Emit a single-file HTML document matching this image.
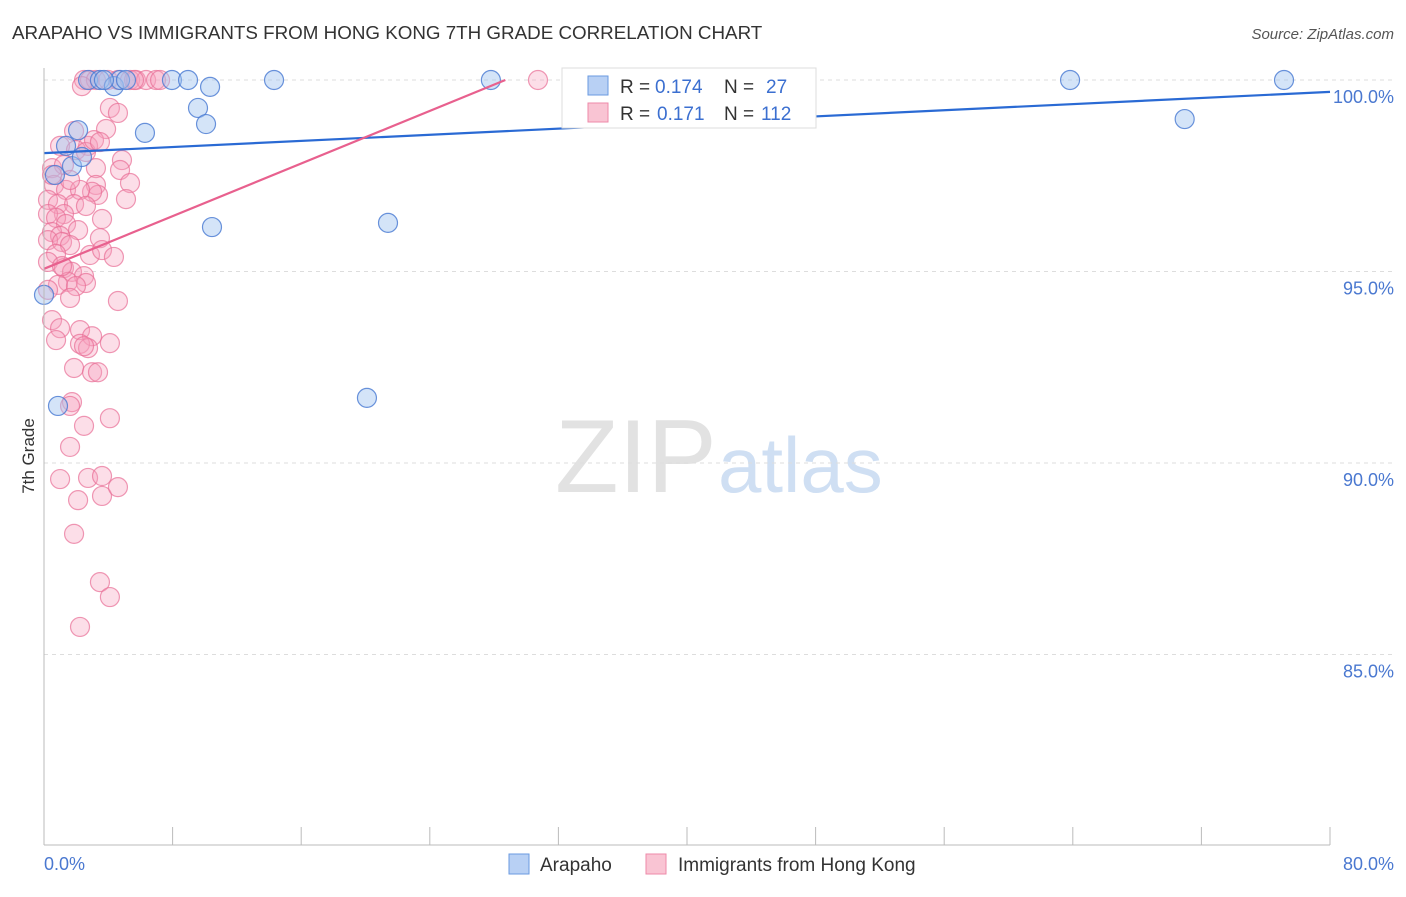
<!DOCTYPE html>
<html><head><meta charset="utf-8"><style>
body{margin:0;background:#fff;font-family:"Liberation Sans",sans-serif;}
svg text{font-family:"Liberation Sans",sans-serif;}
</style></head><body>
<svg id="c" width="1406" height="892">
<text x="12" y="39" font-size="18.8" fill="#333">ARAPAHO VS IMMIGRANTS FROM HONG KONG 7TH GRADE CORRELATION CHART</text>
<text x="1394" y="39" font-size="15" fill="#555" text-anchor="end" font-style="italic">Source: ZipAtlas.com</text>
<text x="555" y="492" font-size="104" fill="#e2e2e2" font-family="Liberation Serif">ZIP</text>
<text x="718" y="492" font-size="78" fill="#cfdff3">atlas</text>
<g id="grid"></g>
<g id="pts"></g>
<g id="lines"></g>
<line x1="44" y1="68" x2="44" y2="845" stroke="#bbb"/>
<line x1="44" y1="845" x2="1330" y2="845" stroke="#bbb"/>
<text transform="translate(34,456) rotate(-90)" font-size="17" fill="#333" text-anchor="middle">7th Grade</text>
<text x="44" y="870" font-size="18" fill="#4a78d0">0.0%</text>
<text x="1394" y="870" font-size="18" fill="#4a78d0" text-anchor="end">80.0%</text>
<g>
<rect x="562" y="68" width="254" height="60" fill="#fff" stroke="#ddd"/>
<rect x="588" y="76" width="20" height="19" fill="#b8d0f4" stroke="#6a9ae0"/>
<rect x="588" y="103" width="20" height="19" fill="#f9c4d3" stroke="#ee8aa8"/>
<text x="620" y="93" font-size="19" fill="#333">R =</text>
<text x="655" y="93" font-size="19" fill="#3b6fd0">0.174</text>
<text x="724" y="93" font-size="19" fill="#333">N =</text>
<text x="766" y="93" font-size="19" fill="#3b6fd0">27</text>
<text x="620" y="120" font-size="19" fill="#333">R =</text>
<text x="657" y="120" font-size="19" fill="#3b6fd0">0.171</text>
<text x="724" y="120" font-size="19" fill="#333">N =</text>
<text x="761" y="120" font-size="19" fill="#3b6fd0">112</text>
</g>
<g>
<rect x="509" y="854" width="20" height="20" fill="#b8d0f4" stroke="#6a9ae0"/>
<text x="540" y="871" font-size="19" fill="#333">Arapaho</text>
<rect x="646" y="854" width="20" height="20" fill="#f9c4d3" stroke="#ee8aa8"/>
<text x="678" y="871" font-size="19" fill="#333">Immigrants from Hong Kong</text>
</g>
</svg>
<script>
const yTicks=[100,95,90,85];
const yTickLabels=["100.0%","95.0%","90.0%","85.0%"];
const xTicks=[0,8,16,24,32,40,48,56,64,72,80];
const blueX=[0,0.87,1.37,1.74,2.12,2.36,2.74,3.48,4.35,4.73,5.1,6.28,7.96,8.96,9.58,10.08,10.33,10.45,14.31,20.09,21.4,27.8,63.83,70.96,77.14,0.68,3.73];
const blueY=[94.39,91.49,98.28,97.75,98.69,97.99,100,100,99.84,100,100,98.62,100,100,99.27,98.85,99.82,96.16,100,91.7,96.27,100,100,98.98,100,97.52,100];
const pinkX=[2.49,2.86,3.23,3.98,4.6,5.35,5.72,6.35,6.97,7.22,30.73,2.36,5.6,4.1,4.6,3.86,1.87,1.0,2.74,1.99,2.61,0.5,1.24,3.23,4.85,4.73,0.62,1.37,3.23,3.36,5.35,5.1,2.99,2.24,0.25,0.87,1.87,2.61,1.24,0.25,0.75,3.61,1.37,0.5,1.0,2.12,3.48,0.25,1.12,1.62,2.86,3.61,4.35,0.75,0.25,1.24,1.74,2.49,1.49,2.61,0.87,1.99,1.62,4.6,0.5,1.0,2.24,0.75,2.99,2.24,2.74,2.49,4.1,1.87,2.99,3.36,1.74,1.62,2.49,4.1,1.62,1.0,2.74,3.61,2.12,3.61,4.6,1.87,3.48,4.1,2.24,0.25,0.5,1.12,3.11,3.48,1.62];
const pinkY=[100,100,100,100,100,100,100,100,100,100,100,99.84,100,99.27,99.14,98.72,98.67,98.28,98.28,98.17,98.12,97.7,97.78,97.7,97.91,97.65,97.26,97.13,97.26,97.0,97.31,96.89,97.08,97.13,96.87,96.76,96.76,96.71,96.5,96.5,96.4,96.37,96.24,96.03,95.93,96.08,95.87,95.82,95.77,95.69,95.43,95.56,95.38,95.46,95.25,95.09,94.99,94.88,94.73,94.7,94.65,94.62,94.31,94.23,93.73,93.52,93.47,93.21,93.31,93.11,93.0,93.05,93.13,92.48,92.37,92.37,91.59,91.49,90.97,91.17,90.42,89.58,89.61,89.66,89.03,89.14,89.37,88.15,86.89,86.5,85.72,94.52,97.52,95.14,98.43,98.38,97.39];
const blueTrend=[98.09,99.69];
const pinkTrend=[95.07,100,28.7];
const X=v=>44+v*16.075, Y=v=>80+(100-v)*38.3;
const NS="http://www.w3.org/2000/svg";
function mk(t,a,p){const e=document.createElementNS(NS,t);for(const k in a)e.setAttribute(k,a[k]);p.appendChild(e);return e;}
const grid=document.getElementById('grid');
yTicks.forEach((t,i)=>{
 const l=mk('line',{x1:44,x2:1394,y1:Y(t),y2:Y(t),stroke:'#ddd','stroke-dasharray':'4,4'},grid);
 
 
 const tx=mk('text',{x:1394,y:Y(t)+23,'font-size':18,fill:'#4a78d0','text-anchor':'end'},grid);
 tx.textContent=yTickLabels[i];
 
 
});
xTicks.forEach(t=>{
 const l=mk('line',{x1:X(t),x2:X(t),y1:827,y2:845,stroke:'#bbb'},grid);
 
 
});
const pts=document.getElementById('pts');
pinkX.forEach((x,i)=>{
 const c=mk('circle',{cx:X(x),cy:Y(pinkY[i]),r:9.5,fill:'rgba(246,160,188,0.35)',stroke:'rgba(232,110,150,0.7)','stroke-width':1.2},pts);
 
 
});
blueX.forEach((x,i)=>{
 const c=mk('circle',{cx:X(x),cy:Y(blueY[i]),r:9.5,fill:'rgba(160,195,240,0.45)',stroke:'rgba(70,120,210,0.8)','stroke-width':1.2},pts);
 
 
});
const lines=document.getElementById('lines');
const bl=mk('line',{x1:X(0),y1:Y(blueTrend[0]),x2:X(80),y2:Y(blueTrend[1]),stroke:'#2a6ad4','stroke-width':2.2},lines);


const pl=mk('line',{x1:X(0),y1:Y(pinkTrend[0]),x2:X(pinkTrend[2]),y2:Y(pinkTrend[1]),stroke:'#e8608e','stroke-width':2.2},lines);


</script>
</body></html>
